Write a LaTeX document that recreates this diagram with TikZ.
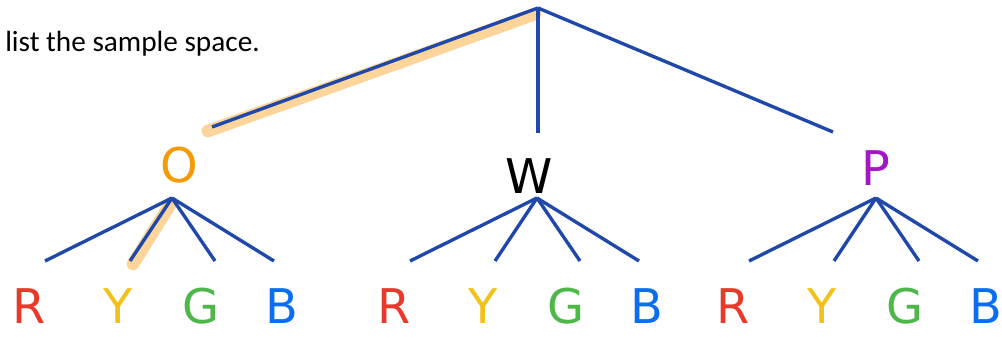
\documentclass[tikz,border=0pt]{standalone}
\usepackage{fontspec}
\setmainfont{Carlito}
\newfontfamily\handfont{DejaVu Sans}
\usetikzlibrary{positioning}

\definecolor{branchblue}{HTML}{1F48A8}
\definecolor{hlorange}{HTML}{FDD49A}
\definecolor{leafred}{HTML}{E8392A}
\definecolor{leafyellow}{HTML}{F2C21B}
\definecolor{leafgreen}{HTML}{4DB847}
\definecolor{leafblue}{HTML}{0A6EF5}
\definecolor{topOrange}{HTML}{F59A00}
\definecolor{topPurple}{HTML}{A318C4}

\begin{document}
\begin{tikzpicture}[
    % one unit = one pixel of the 1002x346 sheet, y runs downward
    x=0.025cm,
    y=-0.025cm,
    branch/.style={branchblue, line width=2.4pt},
    marker/.style={hlorange, line width=9pt, line cap=round},
    letter/.style={font=\handfont\fontsize{34}{34}\selectfont, inner sep=0pt}
]
    \useasboundingbox (0,0) rectangle (1002,346);

    % --- Prompt text ---
    \node[anchor=base west, inner sep=0pt, font=\fontsize{20.8}{20.8}\selectfont] (prompt) at (5,52) {list the sample space.};

    % --- Root and first level ---
    \coordinate (root) at (538,8);
    \coordinate (o-top) at (212,127);
    \coordinate (w-top) at (538,133);
    \coordinate (p-top) at (833,132);

    % highlighter strokes (behind the branches)
    \draw[marker] (208,131) -- (535,14);
    \draw[marker] (171,203) -- (133,264);

    \draw[branch] (root) -- (o-top);
    \draw[branch] (root) -- (w-top);
    \draw[branch] (root) -- (p-top);

    \node[letter, text=topOrange] (lblO) at (179,165) {O};
    \node[letter, text=black] (lblW) at (529,176) {W};
    \node[letter, text=topPurple] (lblP) at (876,168) {P};

    % --- Second level: four colours under each first pick ---
    \foreach \grp/\jx in {o/172, w/537, p/876} {
        \coordinate (\grp-j) at (\jx,198);
        \foreach \lt/\col/\ex/\lx [count=\i] in {R/leafred/-127/-143, Y/leafyellow/-42/-54, G/leafgreen/43/29, B/leafblue/102/110} {
            \coordinate (\grp-e\i) at (\jx+\ex,261);
            \draw[branch] (\grp-j) -- (\grp-e\i);
            \node[letter, text=\col] (\grp-\lt) at (\jx+\lx,306) {\lt};
        }
    }

\end{tikzpicture}
\end{document}
